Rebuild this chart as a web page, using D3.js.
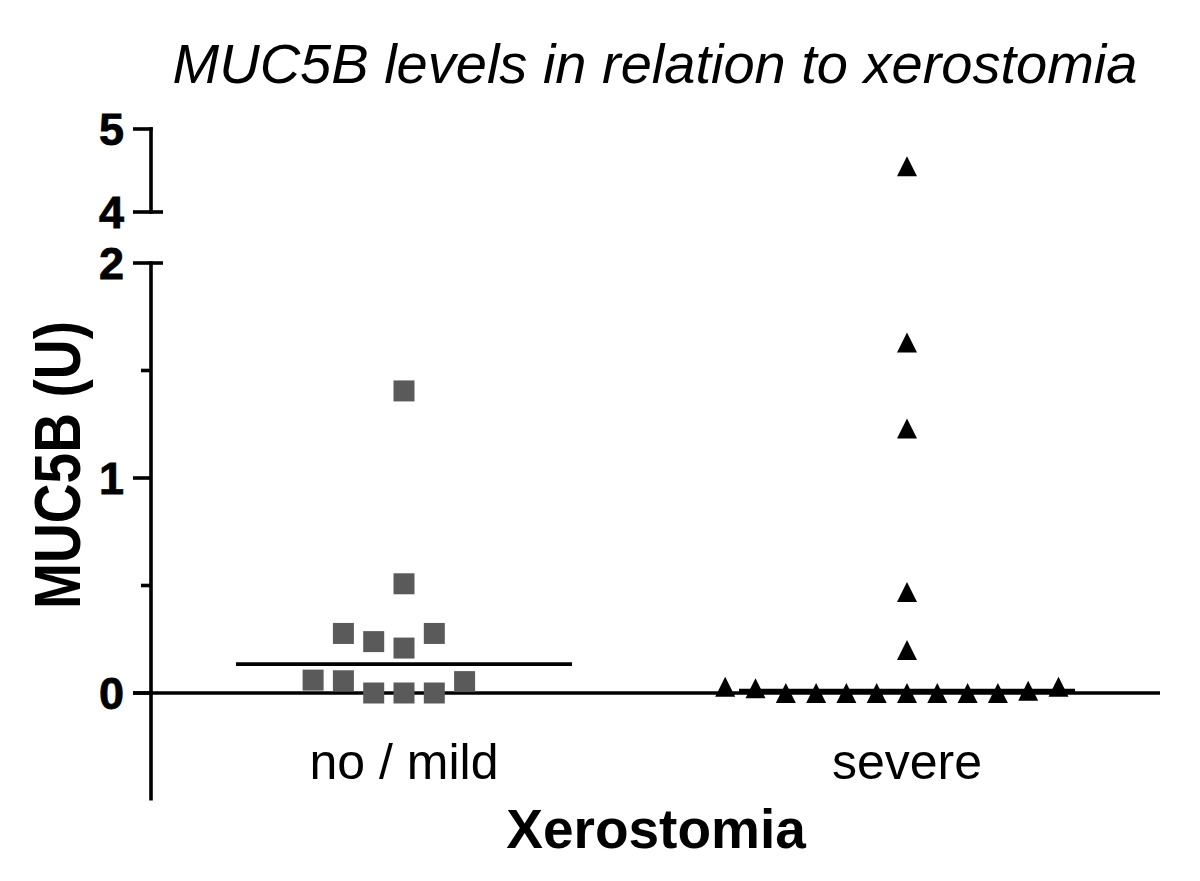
<!DOCTYPE html>
<html>
<head>
<meta charset="utf-8">
<script src="https://cdn.jsdelivr.net/npm/d3@7"></script>
<style>
  html, body { margin: 0; padding: 0; background: #fff; }
  svg { display: block; font-family: "Liberation Sans", Arial, Helvetica, sans-serif; }
</style>
</head>
<body>
<svg id="chart" width="1200" height="881"></svg>
<script>
// ---- data ----
const categories = ["no / mild", "severe"];
const noMildValues = [1.405, 0.508, 0.209, 0.239, 0.277, 0.277, 0, 0, 0, 0.057, 0.053, 0.06];
const severeValues = [4.55, 1.63, 1.23, 0.47, 0.20, 0, 0, 0, 0, 0, 0, 0, 0, 0.011, 0.022, 0.029, 0.029];
const lowerTicks = [0, 1, 2];
const lowerMinorTicks = [0.5, 1.5];
const upperTicks = [4, 5];
const titleText = "MUC5B levels in relation to xerostomia";
const yLabel = "MUC5B (U)";
const xLabel = "Xerostomia";

// ---- layout ----
const svg = d3.select("#chart");
const axisX = 151;
const rightEnd = 1160;

const x = d3.scalePoint().domain(categories).range([axisX, rightEnd]).padding(0.503);
const yLow = d3.scaleLinear().domain([-0.5, 2]).range([800.5, 263]);
const yHigh = d3.scaleLinear().domain([4, 5]).range([212, 129]);
const yPos = v => v > 3 ? yHigh(v) : yLow(v);

const ink = "#000";
const lw = 3.6;

// title
svg.append("text")
  .attr("x", 655).attr("y", 83)
  .attr("text-anchor", "middle")
  .attr("font-size", 56).attr("font-style", "italic")
  .attr("fill", ink)
  .text(titleText);

// y axis label (condensed as in reference)
svg.append("text")
  .attr("transform", "translate(80,465) rotate(-90)")
  .attr("text-anchor", "middle")
  .attr("font-size", 64).attr("font-weight", "bold")
  .attr("textLength", 288).attr("lengthAdjust", "spacingAndGlyphs")
  .attr("fill", ink)
  .text(yLabel);

// x axis label
svg.append("text")
  .attr("x", 656).attr("y", 848)
  .attr("text-anchor", "middle")
  .attr("font-size", 55).attr("font-weight", "bold")
  .attr("fill", ink)
  .text(xLabel);

// ---- axes ----
const axG = svg.append("g").attr("stroke", ink).attr("stroke-width", lw).attr("fill", "none");
// lower segment
axG.append("line").attr("x1", axisX).attr("x2", axisX)
  .attr("y1", yLow(2) - lw/2).attr("y2", yLow(-0.5));
lowerTicks.forEach(t => {
  axG.append("line").attr("x1", 133).attr("x2", t === 2 ? 163 : axisX)
    .attr("y1", yLow(t)).attr("y2", yLow(t));
});
lowerMinorTicks.forEach(t => {
  axG.append("line").attr("x1", 141).attr("x2", axisX)
    .attr("y1", yLow(t)).attr("y2", yLow(t));
});
// zero line across plot
axG.append("line").attr("x1", 133).attr("x2", rightEnd)
  .attr("y1", yLow(0)).attr("y2", yLow(0));
// upper segment
axG.append("line").attr("x1", axisX).attr("x2", axisX)
  .attr("y1", yHigh(5) - lw/2).attr("y2", yHigh(4) + lw/2);
upperTicks.forEach(t => {
  axG.append("line").attr("x1", 133).attr("x2", t === 4 ? 163 : axisX + lw/2)
    .attr("y1", yHigh(t)).attr("y2", yHigh(t));
});

// tick labels
const tickLabels = lowerTicks.map(t => ({t, y: yLow(t)})).concat(upperTicks.map(t => ({t, y: yHigh(t)})));
svg.append("g").selectAll("text").data(tickLabels).join("text")
  .attr("x", 124).attr("y", d => d.y + 16)
  .attr("text-anchor", "end")
  .attr("font-size", 45).attr("font-weight", "bold")
  .attr("stroke", ink).attr("stroke-width", 0.8)
  .attr("fill", ink)
  .text(d => d.t);

// category labels
svg.append("g").selectAll("text").data(categories).join("text")
  .attr("x", d => x(d)).attr("y", 779)
  .attr("text-anchor", "middle")
  .attr("font-size", 50)
  .attr("fill", ink)
  .text(d => d);

// ---- swarm layout ----
function swarm(values, slot, sym) {
  const placed = [];
  return values.map(v => {
    const py = yPos(v);
    let k = 0;
    for (let i = 0; i < 40; i++) {
      k = i === 0 ? 0 : (i % 2 === 1 ? -(i + 1) / 2 : i / 2);
      const hit = placed.some(p => p.k === k && Math.abs(p.py - py) < sym);
      if (!hit) break;
    }
    const o = {v, py, k};
    placed.push(o);
    return o;
  });
}
const slot = 30.3;

const triangle = {
  draw(ctx, size) {
    const s = Math.sqrt(size);
    ctx.moveTo(0, -s / 2);
    ctx.lineTo(s / 2, s / 2);
    ctx.lineTo(-s / 2, s / 2);
    ctx.closePath();
  }
};

const groups = [
  {cat: categories[0], values: noMildValues, type: d3.symbolSquare, size: 21 * 21, fill: "#5a5a5a"},
  {cat: categories[1], values: severeValues, type: triangle, size: 20 * 20, fill: "#000"}
];

groups.forEach(g => {
  const pts = swarm(g.values, slot, 21);
  const cx = x(g.cat);
  svg.append("g").selectAll("path").data(pts).join("path")
    .attr("transform", d => `translate(${cx + d.k * slot},${d.py})`)
    .attr("d", d3.symbol().type(g.type).size(g.size))
    .attr("fill", g.fill);
});

// median lines (drawn on top)
groups.forEach(g => {
  const m = d3.median(g.values);
  const cx = x(g.cat);
  svg.append("line")
    .attr("x1", cx - 168).attr("x2", cx + 168)
    .attr("y1", yPos(m)).attr("y2", yPos(m))
    .attr("stroke", ink).attr("stroke-width", lw);
});
</script>
</body>
</html>
